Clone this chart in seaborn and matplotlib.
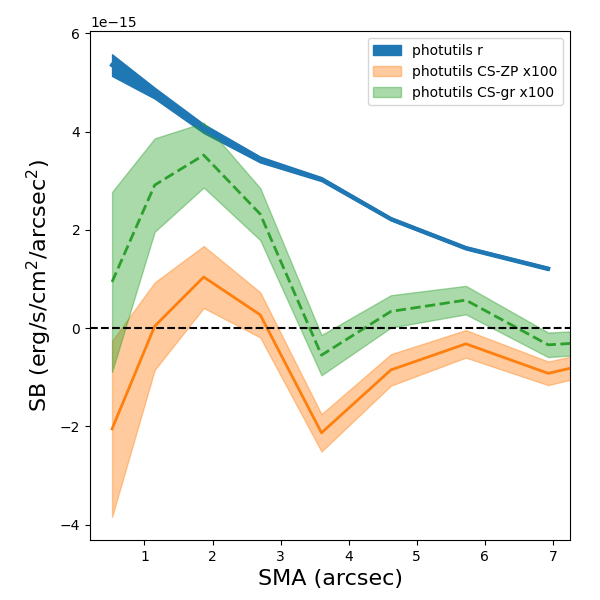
import numpy as np
import pandas as pd
import matplotlib
matplotlib.use("Agg")
import matplotlib.pyplot as plt
import seaborn as sns

# semi-major axis (arcsec)
sma = [0.524, 1.15, 1.87, 2.70, 3.60, 4.62, 5.72, 6.93, 8.30]

# surface brightness, units of 1e-15 erg/s/cm2/arcsec2
sb_r = [5.35, 4.78, 4.06, 3.43, 3.03, 2.22, 1.63, 1.21]
sb_r_err = [0.22, 0.11, 0.09, 0.06, 0.04, 0.03, 0.03, 0.03]

sb_zp = [-2.05, 0.04, 1.04, 0.27, -2.13, -0.85, -0.32, -0.92, -0.48]
sb_zp_err = [1.79, 0.89, 0.63, 0.46, 0.38, 0.32, 0.28, 0.24, 0.22]

sb_gr = [0.94, 2.91, 3.52, 2.32, -0.55, 0.34, 0.57, -0.34, -0.22]
sb_gr_err = [1.83, 0.95, 0.66, 0.53, 0.41, 0.33, 0.29, 0.25, 0.23]

scale = 1e-15

r = pd.DataFrame({"sma": sma[:len(sb_r)], "sb": np.array(sb_r) * scale,
                  "err": np.array(sb_r_err) * scale})
zp = pd.DataFrame({"sma": sma, "sb": np.array(sb_zp) * scale,
                   "err": np.array(sb_zp_err) * scale})
gr = pd.DataFrame({"sma": sma, "sb": np.array(sb_gr) * scale,
                   "err": np.array(sb_gr_err) * scale})

fig, ax = plt.subplots(figsize=(6, 6), dpi=100)

ax.fill_between(r["sma"], r["sb"] - r["err"], r["sb"] + r["err"],
                color="C0", alpha=1.0, label="photutils r")
sns.lineplot(data=r, x="sma", y="sb", ax=ax, color="C0", lw=3, legend=False)

ax.fill_between(zp["sma"], zp["sb"] - zp["err"], zp["sb"] + zp["err"],
                color="C1", alpha=0.4, label="photutils CS-ZP x100")
sns.lineplot(data=zp, x="sma", y="sb", ax=ax, color="C1", lw=2, legend=False)

ax.fill_between(gr["sma"], gr["sb"] - gr["err"], gr["sb"] + gr["err"],
                color="C2", alpha=0.4, label="photutils CS-gr x100")
sns.lineplot(data=gr, x="sma", y="sb", ax=ax, color="C2", lw=2, ls="--",
             legend=False)

ax.axhline(0, color="k", ls="--", lw=1.5)

ax.set_xlim(0.2, 7.25)
ax.set_xlabel("SMA (arcsec)", fontsize=16)
ax.set_ylabel("SB (erg/s/cm$^2$/arcsec$^2$)", fontsize=16)
ax.legend(loc="upper right")

plt.subplots_adjust(left=0.15, right=0.95, bottom=0.1, top=0.948)
plt.savefig("out.png", dpi=100)
